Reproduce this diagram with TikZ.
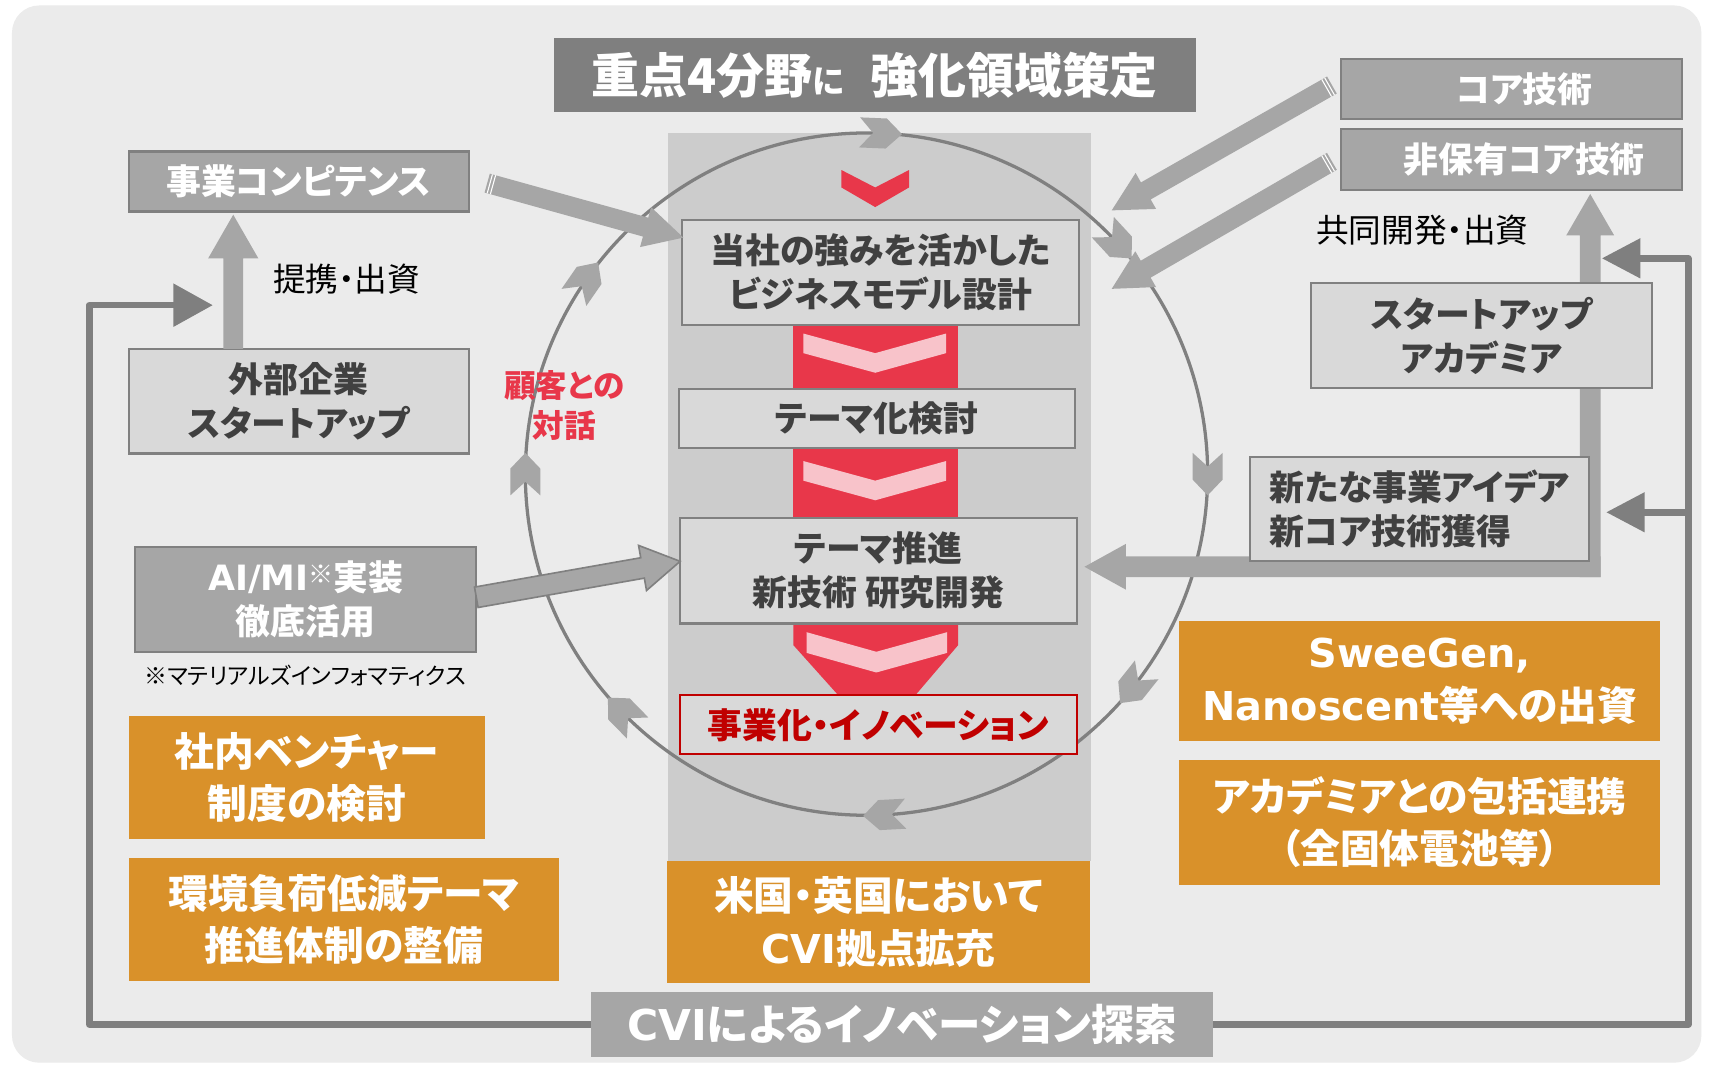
\documentclass[tikz,border=0pt]{standalone}
\usepackage{fontspec}
\setmainfont{Noto Sans CJK JP}[RawFeature=+palt]
\newfontfamily\lat{DejaVu Sans}
\usetikzlibrary{calc}
\definecolor{bgc}{HTML}{EBEBEB}
\definecolor{colc}{HTML}{CCCCCC}
\definecolor{titc}{HTML}{7F7F7F}
\definecolor{midg}{HTML}{A6A6A6}
\definecolor{bord}{HTML}{808080}
\definecolor{lig}{HTML}{D9D9D9}
\definecolor{org}{HTML}{D9912A}
\definecolor{redc}{HTML}{E8374A}
\definecolor{pinkc}{HTML}{F8C3CA}
\definecolor{dred}{HTML}{C00000}
\definecolor{txt}{HTML}{404040}
\pgfdeclarelayer{bgl}
\pgfdeclarelayer{midl}
\pgfsetlayers{bgl,midl,main}
\tikzset{
 circchev/.pic={\fill[midg] (-19.5,13.8) -- (5,13.8) -- (19.5,0) -- (5,-13.8) -- (-19.5,-13.8) -- (-7,0) -- cycle;}
}
% #1 style, #2 tail, #3 tip, #4 shaft half width, #5 head half width, #6 head length
\newcommand\fatarr[6]{%
 \coordinate (fah) at ($#3!#6!#2$);
 \path[#1] ($#2!#4!90:#3$) -- ($(fah)!#4!90:#3$) -- ($(fah)!#5!90:#3$) -- #3 -- ($(fah)!#5!-90:#3$) -- ($(fah)!#4!-90:#3$) -- ($#2!#4!-90:#3$) -- cycle;}
\newcommand\tailstripes[3]{%
 \foreach \d in {2.5,5.5}{\coordinate (tsa) at ($#1!\d pt!#2$);
  \draw[white, line width=1pt] ($(tsa)!#3!90:#2$) -- ($(tsa)!#3!-90:#2$);}}
\begin{document}
\begin{tikzpicture}[x=1pt,y=-1pt,
 every node/.style={inner sep=0pt,outer sep=0pt},
 bx/.style={line width=2pt, align=center, font=\bfseries\fontsize{32}{40}\selectfont},
 darkbox/.style={bx, fill=midg, draw=bord, text=white},
 lightbox/.style={bx, fill=lig, draw=bord, text=txt},
 orgbox/.style={fill=org, text=white, align=center, font=\bfseries\fontsize{36.5}{48}\selectfont},
 titlebox/.style={fill=titc, text=white, font=\bfseries\fontsize{44}{50}\selectfont},
 cvibox/.style={fill=midg, text=white, font=\bfseries\fontsize{39}{46}\selectfont},
 plaintext/.style={text=black, font=\fontsize{30}{36}\selectfont},
 notetext/.style={text=black, font=\fontsize{21}{26}\selectfont},
 redtext/.style={text=redc, align=center, font=\bfseries\fontsize{29}{37}\selectfont},
 fat/.style={fill=midg},
 fb/.style={draw=titc, line width=6pt, line join=round}
]
\useasboundingbox (0,0) rectangle (1568,978);
\coordinate (cc) at (795,435);

\begin{pgfonlayer}{bgl}
 \fill[white] (0,0) rectangle (1568,978);
 \fill[bgc, rounded corners=25pt] (11,5) rectangle (1561,975);
 \fill[colc] (613,122) rectangle (1001,790);
 \fill[redc] (772,156) -- (803,172) -- (834,156) -- (834,172) -- (803,190) -- (772,172) -- cycle;
 \fill[redc] (728,296) rectangle (879,359);
 \fill[pinkc] (737,306) -- (803,324) -- (868,306) -- (868,324) -- (803,342) -- (737,324) -- cycle;
 \fill[redc] (728,409) rectangle (879,477);
 \fill[pinkc] (737,423) -- (803,441) -- (868,423) -- (868,441) -- (803,459) -- (737,441) -- cycle;
 \fill[redc] (728,570) -- (879,570) -- (879,592) -- (838,640) -- (771,640) -- (728,592) -- cycle;
 \fill[pinkc] (740,580) -- (804,598) -- (869,580) -- (869,599) -- (804,617) -- (740,599) -- cycle;
 \draw[bord, line width=3pt] (cc) circle[radius=313];
 \foreach \a in {-87.6,-42.7,0,38.5,87,135.6,180,214.7}
   \pic[rotate={-(\a)-90}] at ($(cc)+(\a:313)$) {circchev};
\end{pgfonlayer}

% nodes
\node[titlebox, minimum width=589pt, minimum height=68pt] (title) at (802.5,69) {重点4分野{\fontsize{30}{30}\selectfont に}\hspace{24pt}強化領域策定};
\node[darkbox, minimum width=312pt, minimum height=55pt] (comp) at (274,166.5) {事業コンピテンス};
\node[lightbox, minimum width=312pt, minimum height=96pt] (gaibu) at (274,368) {外部企業\\スタートアップ};
\node[darkbox, minimum width=313pt, minimum height=96pt] (ai) at (280.5,550) {{\lat AI/MI}\raisebox{7pt}{\fontsize{23}{23}\selectfont ※}実装\\徹底活用};
\node[notetext] (note) at (280,620) {※マテリアルズインフォマティクス};
\node[orgbox, minimum width=327pt, minimum height=113pt] (venture) at (281.5,713.5) {社内ベンチャー\\制度の検討};
\node[orgbox, minimum width=395pt, minimum height=113pt] (kankyo) at (315.5,843.5) {環境負荷低減テーマ\\推進体制の整備};
\node[lightbox, minimum width=364pt, minimum height=96pt] (tousha) at (808,250) {当社の強みを活かした\\ビジネスモデル設計};
\node[lightbox, minimum width=363pt, minimum height=54pt] (temaka) at (804.5,384) {テーマ化検討};
\node[lightbox, minimum width=364pt, minimum height=97pt] (temasui) at (806,523.5) {テーマ推進\\新技術 研究開発};
\node[lightbox, draw=dred, text=dred, minimum width=364pt, minimum height=54pt] (jigyo) at (806,665) {事業化・イノベーション};
\node[orgbox, minimum width=388pt, minimum height=112pt] (beikoku) at (806,846) {米国・英国において\\{\lat CVI}拠点拡充};
\node[cvibox, minimum width=571pt, minimum height=60pt] (cvi) at (827.5,940) {{\lat CVI}によるイノベーション探索};
\node[darkbox, minimum width=313pt, minimum height=55pt] (core) at (1386.5,81.5) {\hspace*{24pt}コア技術};
\node[darkbox, minimum width=313pt, minimum height=56pt] (hihoyu) at (1386.5,146) {\hspace*{24pt}非保有コア技術};
\node[plaintext] (kyodo) at (1305,211) {共同開発・出資};
\node[lightbox, minimum width=313pt, minimum height=96pt] (startup) at (1359.5,308) {スタートアップ\\アカデミア};
\node[lightbox, align=left, minimum width=311pt, minimum height=96pt] (aratana) at (1302.5,467) {新たな事業アイデア\\新コア技術獲得};
\node[orgbox, minimum width=441pt, minimum height=110pt] (sweegen) at (1302.5,625) {{\lat SweeGen,}\\{\lat Nanoscent}等への出資};
\node[orgbox, minimum width=441pt, minimum height=115pt] (acad) at (1302.5,754.5) {アカデミアとの包括連携\\（全固体電池等）};
\node[redtext] (kokyaku) at (518,372) {顧客との\\対話};
\node[plaintext] (teikei) at (318,256) {提携・出資};

% connectors behind boxes
\begin{pgfonlayer}{midl}
 \coordinate (lcorner) at (82,280);
 \coordinate (ltip) at (195,280);
 \draw[fb] (cvi.west) -| (lcorner) -- ($(ltip)+(-34,0)$);
 \fill[titc] (ltip) -- ($(ltip)+(-36,-20)$) -- ($(ltip)+(-36,20)$) -- cycle;
 \coordinate (rcorner) at (1549,237);
 \coordinate (rbranch) at (1549,470);
 \coordinate (rtip) at (1470,237);
 \coordinate (rtip2) at (1474,470);
 \draw[fb] (cvi.east) -| (rcorner) -- ($(rtip)+(34,0)$);
 \draw[fb] (rbranch) -- ($(rtip2)+(34,0)$);
 \fill[titc] (rtip) -- ($(rtip)+(35,-18.5)$) -- ($(rtip)+(35,18.5)$) -- cycle;
 \fill[titc] (rtip2) -- ($(rtip2)+(35,-18.5)$) -- ($(rtip2)+(35,18.5)$) -- cycle;
 \coordinate (vtip) at ($(hihoyu.south)+(72.5,4)$);
 \coordinate (vtail) at ($(vtip)+(0,351.5)$);
 \coordinate (htip) at ($(temasui.east)+(7,-3.5)$);
 \coordinate (htail) at ($(vtail)+(9.5,-9.5)$);
 \fatarr{fat}{(vtail)}{(vtip)}{9.5pt}{22pt}{38pt}
 \fatarr{fat}{(htail)}{(htip)}{9.5pt}{21pt}{38pt}
\end{pgfonlayer}

% connectors on top
\coordinate (aT) at ($(gaibu.north)+(-60,0)$);
\coordinate (aH) at ($(comp.south)+(-60,3)$);
\fatarr{fat}{(aT)}{(aH)}{9pt}{23pt}{40pt}

\coordinate (bT) at ($(comp.east)+(17,1.5)$);
\coordinate (bH) at ($(tousha.west)+(1,-32)$);
\fatarr{fat}{(bT)}{(bH)}{9pt}{19pt}{36pt}
\tailstripes{(bT)}{(bH)}{9pt}

\coordinate (cT) at ($(ai.east)+(0,-2)$);
\coordinate (cH) at ($(temasui.west)+(0,-8.5)$);
\fatarr{fill=midg,draw=bord,line width=1.5pt}{(cT)}{(cH)}{9.5pt}{21pt}{35pt}

\coordinate (dT) at ($(core.west)+(-8,-3.5)$);
\coordinate (dH) at (1020,193);
\fatarr{fat}{(dT)}{(dH)}{9pt}{19pt}{36pt}
\tailstripes{(dT)}{(dH)}{9pt}

\coordinate (eT) at ($(hihoyu.west)+(-8,2)$);
\coordinate (eH) at (1020,265);
\fatarr{fat}{(eT)}{(eH)}{9pt}{19pt}{36pt}
\tailstripes{(eT)}{(eH)}{9pt}
\end{tikzpicture}
\end{document}
